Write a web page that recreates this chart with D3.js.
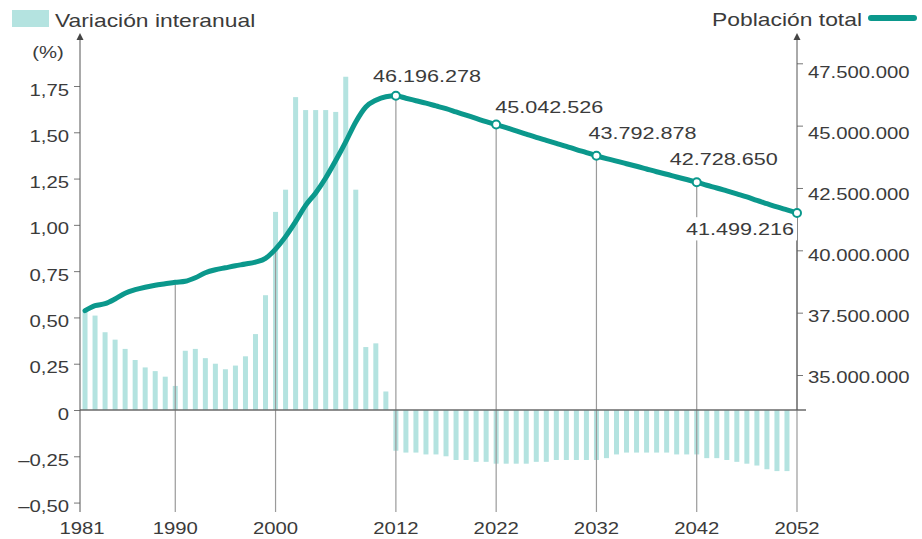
<!DOCTYPE html>
<html>
<head>
<meta charset="utf-8">
<script src="https://cdn.jsdelivr.net/npm/d3@7"></script>
<style>
  body { margin: 0; background: #fff; }
  svg text { font-family: "Liberation Sans", Arial, sans-serif; fill: #3b3b3b; }
</style>
</head>
<body>
<div id="chart"></div>
<script>
var svgWidth = 922;
var svgHeight = 539;

// years for the bars (interannual variation, %)
var barYears = d3.range(1981, 2052);
var variation = [
  0.53, 0.51, 0.42, 0.38, 0.33, 0.27, 0.23, 0.21, 0.18, 0.13,
  0.32, 0.33, 0.28, 0.25, 0.22, 0.24, 0.29, 0.41, 0.62, 1.07,
  1.19, 1.69, 1.62, 1.62, 1.62, 1.61, 1.80, 1.19, 0.34, 0.36,
  0.10,
  -0.22, -0.23, -0.23, -0.24, -0.24, -0.25, -0.27, -0.27, -0.28, -0.28,
  -0.29, -0.29, -0.29, -0.29, -0.28, -0.28, -0.27, -0.27, -0.27, -0.27,
  -0.27, -0.26, -0.24, -0.23, -0.23, -0.23, -0.23, -0.23, -0.24, -0.24,
  -0.24, -0.26, -0.26, -0.27, -0.28, -0.29, -0.30, -0.32, -0.33, -0.33
];

// total population, one value per year 1981-2052
var popYears = d3.range(1981, 2053);
var population = [
  37580000, 37780000, 37860000, 38050000, 38280000, 38420000, 38520000, 38600000, 38660000, 38720000,
  38760000, 38900000, 39100000, 39220000, 39300000, 39380000, 39450000, 39530000, 39680000, 40050000,
  40550000, 41150000, 41800000, 42300000, 42900000, 43600000, 44350000, 45150000, 45750000, 46020000,
  46160000, 46196278, 46100000, 46000000, 45900000, 45790000, 45680000, 45550000, 45420000, 45290000,
  45160000, 45042526, 44920000, 44790000, 44660000, 44530000, 44410000, 44290000, 44170000, 44040000,
  43920000, 43792878, 43680000, 43580000, 43470000, 43370000, 43260000, 43150000, 43050000, 42940000,
  42840000, 42728650, 42610000, 42500000, 42380000, 42260000, 42140000, 42000000, 41870000, 41740000,
  41620000, 41499216
];

var xTickYears = [1981, 1990, 2000, 2012, 2022, 2032, 2042, 2052];
var markedYears = [2012, 2022, 2032, 2042, 2052];
var leftTicks = [-0.5, -0.25, 0, 0.25, 0.5, 0.75, 1, 1.25, 1.5, 1.75];
var rightTicks = [35000000, 37500000, 40000000, 42500000, 45000000, 47500000];

// label placement next to the marked points: [dx, dy, anchor]
var markLabelPos = [[-23, -14, "start"], [-1, -12, "start"], [-8, -17, "start"], [-27, -17, "start"], [-3, 22, "end"]];

var SX = 1.27; // the original lettering is wide
var teal = "#0b988c";
var barColor = "#b4e3e0";

var locale = d3.formatLocale({decimal: ",", thousands: ".", grouping: [3], currency: ["", ""], minus: "\u2013"});
var fmtPct = locale.format(".2f");
var fmtPop = locale.format(",.0f");

var svg = d3.select("#chart").append("svg")
  .attr("width", svgWidth)
  .attr("height", svgHeight);

var x = d3.scaleLinear().domain([1980.5, 2052]).range([80, 797]);
var yL = d3.scaleLinear().domain([0, 1.75]).range([410, 86]);
var yR = d3.scaleLinear().domain([35000000, 47500000]).range([375, 63.3]);
// the right-hand labels sit a little off their ticks in the original
var yRLabel = d3.scaleLinear().domain([35000000, 47500000]).range([377, 72]);

function stext(g, px, py, str, size, anchor) {
  return g.append("text")
    .attr("transform", `translate(${px},${py}) scale(${SX},1)`)
    .attr("font-size", size)
    .attr("text-anchor", anchor || "start")
    .text(str);
}

// bars
svg.append("g").selectAll("rect")
  .data(variation)
  .enter()
  .append("rect")
  .attr("x", (d, i) => x(barYears[i]) - 2.5)
  .attr("width", 5)
  .attr("y", d => d >= 0 ? yL(d) : yL(0))
  .attr("height", d => Math.abs(yL(d) - yL(0)))
  .attr("fill", barColor);

// vertical guides from the line down to the year labels
var popAt = yr => population[popYears.indexOf(yr)];
svg.append("g").selectAll("line")
  .data(xTickYears.slice(1))
  .enter()
  .append("line")
  .attr("x1", d => x(d)).attr("x2", d => x(d))
  .attr("y1", d => yR(popAt(d)))
  .attr("y2", 512)
  .attr("stroke", "#9a9a9a")
  .attr("stroke-width", 1.2);

// zero line
svg.append("line")
  .attr("x1", 80).attr("x2", 806)
  .attr("y1", yL(0)).attr("y2", yL(0))
  .attr("stroke", "#6a6a6a")
  .attr("stroke-width", 1.5);

// left axis
var leftAxis = svg.append("g")
  .attr("transform", "translate(80,0)")
  .call(d3.axisLeft(yL).tickValues(leftTicks).tickSize(6)
    .tickFormat(d => d === 0 ? "0" : fmtPct(d)));
leftAxis.select(".domain").remove();
leftAxis.selectAll("line").attr("stroke", "#777");
leftAxis.selectAll("text")
  .attr("x", 0).attr("y", 0).attr("dy", null)
  .attr("transform", `translate(-11,9) scale(${SX},1)`)
  .attr("font-size", 16)
  .attr("font-family", null)
  .attr("fill", null);
svg.append("line").attr("x1", 80).attr("x2", 80).attr("y1", 38).attr("y2", 512)
  .attr("stroke", "#555").attr("stroke-width", 1);
svg.append("path").attr("d", "M80,33 L76.5,40 L83.5,40 Z").attr("fill", "#444");
stext(svg, 48, 58, "(%)", 16, "middle");

// right axis
var rightAxis = svg.append("g")
  .attr("transform", "translate(797,0)")
  .call(d3.axisRight(yR).tickValues(rightTicks).tickSize(6).tickFormat(fmtPop));
rightAxis.select(".domain").remove();
rightAxis.selectAll("line").attr("stroke", "#777");
rightAxis.selectAll("text")
  .attr("x", 0).attr("y", 0).attr("dy", null)
  .attr("transform", d => `translate(11,${yRLabel(d) - yR(d) + 5.7}) scale(${SX},1)`)
  .attr("font-size", 16)
  .attr("font-family", null)
  .attr("fill", null);
svg.append("line").attr("x1", 797).attr("x2", 797).attr("y1", 38).attr("y2", 410)
  .attr("stroke", "#555").attr("stroke-width", 1);
svg.append("path").attr("d", "M797,33 L793.5,40 L800.5,40 Z").attr("fill", "#444");

// year labels
var xLabels = svg.append("g");
xTickYears.forEach(function(yr) {
  stext(xLabels, yr === 1981 ? 82 : x(yr), 534, yr, 16, "middle");
});

// population line
var line = d3.line()
  .x((d, i) => x(popYears[i]))
  .y(d => yR(d))
  .curve(d3.curveMonotoneX);

svg.append("path")
  .datum(population)
  .attr("d", line)
  .attr("fill", "none")
  .attr("stroke", teal)
  .attr("stroke-width", 5)
  .attr("stroke-linejoin", "round")
  .attr("stroke-linecap", "round");

// marked points and their labels
var marks = svg.append("g");
markedYears.forEach(function(yr, i) {
  var cx = x(yr), cy = yR(popAt(yr));
  var p = markLabelPos[i];
  var holder = marks.append("g");
  var t = stext(holder, cx + p[0], cy + p[1], fmtPop(popAt(yr)), 17, p[2]);
  if (p[2] === "end") {
    var bb = t.node().getBBox();
    var w = bb.width * SX;
    holder.insert("rect", "text")
      .attr("x", cx + p[0] - w - 3)
      .attr("y", cy + p[1] + bb.y - 2)
      .attr("width", w + 6)
      .attr("height", bb.height + 4)
      .attr("fill", "#fff");
  }
  marks.append("circle")
    .attr("cx", cx).attr("cy", cy).attr("r", 4)
    .attr("fill", "#fff")
    .attr("stroke", teal)
    .attr("stroke-width", 2);
});

// legends
svg.append("rect").attr("x", 12).attr("y", 10).attr("width", 37).attr("height", 17).attr("fill", barColor);
stext(svg, 55, 27, "Variación interanual", 18, "start");
stext(svg, 862, 26, "Población total", 18, "end");
svg.append("line").attr("x1", 871).attr("x2", 914).attr("y1", 18).attr("y2", 18)
  .attr("stroke", teal).attr("stroke-width", 6).attr("stroke-linecap", "round");
</script>
</body>
</html>
